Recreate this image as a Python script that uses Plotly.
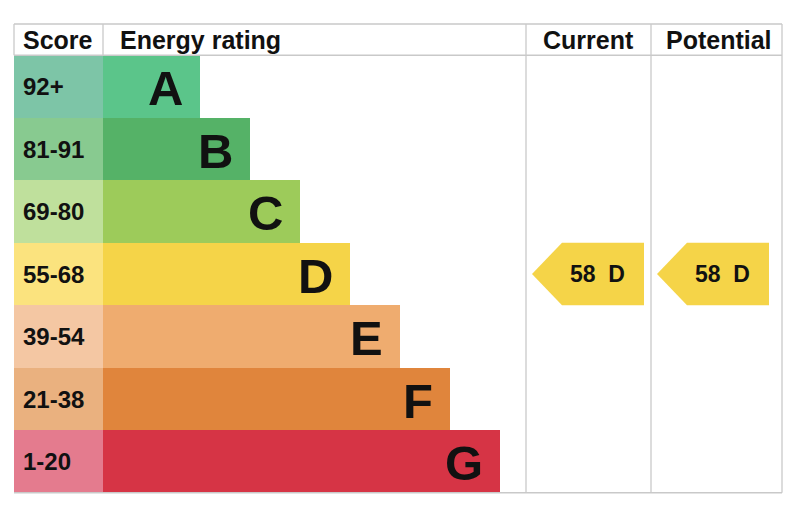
import plotly.graph_objects as go

# ---- data ----
bands = ["A", "B", "C", "D", "E", "F", "G"]
score_ranges = ["92+", "81-91", "69-80", "55-68", "39-54", "21-38", "1-20"]
band_lower = [92, 81, 69, 55, 39, 21, 1]
bar_colors = ["#5bc58a", "#55b267", "#9dcb5a", "#f5d448", "#efac6f", "#e0853c", "#d63445"]
score_colors = ["#7dc5a7", "#88ca90", "#bfe09c", "#fbe37e", "#f4c7a3", "#eab17f", "#e47b8e"]
current_score = 58
potential_score = 58
headers = ["Score", "Energy rating", "Current", "Potential"]

# ---- layout geometry (x in page px units, y in row units) ----
W, H = 800, 509
OFF = 8  # page body margin
left, score_right = 14, 103
cur_left, pot_left, right = 526, 651, 782
bar_step = 50
row_px = 62.5
top_px = 24

def ypx_to_y(p):
    return (p - top_px) / row_px - 1.0

rows = list(range(len(bands)))
bar_len = [bar_step * (i + 2) - 3 for i in rows]

def band_of(score):
    for i, lo in enumerate(band_lower):
        if score >= lo:
            return i
    return len(band_lower) - 1

fig = go.Figure()
fig.add_trace(go.Bar(
    y=rows, x=[score_right - left] * len(rows), base=left, orientation="h",
    width=1.0, marker=dict(color=score_colors, line=dict(width=0)),
    hoverinfo="skip", showlegend=False))
fig.add_trace(go.Bar(
    y=rows, x=bar_len, base=score_right, orientation="h",
    width=1.0, marker=dict(color=bar_colors, line=dict(width=0)),
    hoverinfo="skip", showlegend=False))

font_family = "Liberation Sans, Arial, Helvetica, sans-serif"
ann = []
for i in rows:
    ann.append(dict(x=left + 7, y=i, text=f"<b>{score_ranges[i]}</b>", xanchor="left",
                    yanchor="middle", showarrow=False,
                    font=dict(family=font_family, size=24, color="#111")))
    ann.append(dict(x=score_right + bar_len[i] - 15, y=i + 0.03, text=f"<b>{bands[i]}</b>",
                    xanchor="right", yanchor="middle", showarrow=False,
                    font=dict(family=font_family, size=49, color="#111")))

hy = -0.75
hfont = dict(family=font_family, size=25, color="#111")
ann.append(dict(x=left + 7, y=hy, text="<b>Score</b>", xanchor="left", showarrow=False, font=hfont))
ann.append(dict(x=score_right + 15, y=hy, text="<b>Energy rating</b>", xanchor="left", showarrow=False, font=hfont))
ann.append(dict(x=(cur_left + pot_left) / 2, y=hy, text="<b>Current</b>", xanchor="center", showarrow=False, font=hfont))
ann.append(dict(x=(pot_left + right) / 2 + 2, y=hy, text="<b>Potential</b>", xanchor="center", showarrow=False, font=hfont))

shapes = []
line_col = "#c9c9c9"
def hline(x0, x1, y):
    shapes.append(dict(type="line", x0=x0, x1=x1, y0=y, y1=y, xref="x", yref="y",
                       line=dict(color=line_col, width=1.3), layer="above"))
def vline(x, y0, y1):
    shapes.append(dict(type="line", x0=x, x1=x, y0=y0, y1=y1, xref="x", yref="y",
                       line=dict(color=line_col, width=1.3), layer="above"))

ybot = len(bands) - 0.5
hline(left, right, -1.0)
hline(left, right, -0.5)
hline(left, right, ybot)
vline(left, -1.0, -0.5)
vline(score_right, -1.0, -0.5)
vline(cur_left, -1.0, ybot)
vline(pot_left, -1.0, ybot)
vline(right, -1.0, ybot)

def arrow(col_left, score):
    b = band_of(score)
    tip = col_left + 6
    sh = tip + 30
    rx = tip + 112
    yt, yb = b - 0.5, b + 0.5
    path = f"M {tip},{b} L {sh},{yt} L {rx},{yt} L {rx},{yb} L {sh},{yb} Z"
    shapes.append(dict(type="path", path=path, xref="x", yref="y",
                       fillcolor=bar_colors[b], line=dict(width=0), layer="above"))
    ann.append(dict(x=tip + 65, y=b, text=f"<b>{score}&nbsp;&nbsp;{bands[b]}</b>", xanchor="center",
                    yanchor="middle", showarrow=False,
                    font=dict(family=font_family, size=23, color="#111")))

arrow(cur_left, current_score)
arrow(pot_left, potential_score)

fig.update_layout(
    width=W - OFF, height=H - OFF, margin=dict(l=0, r=0, t=0, b=0),
    paper_bgcolor="white", plot_bgcolor="white",
    bargap=0, barmode="overlay",
    xaxis=dict(range=[OFF, W], visible=False, fixedrange=True),
    yaxis=dict(range=[ypx_to_y(H), ypx_to_y(OFF)], visible=False, fixedrange=True),
    annotations=ann, shapes=shapes,
)
fig.write_html("out.html")
